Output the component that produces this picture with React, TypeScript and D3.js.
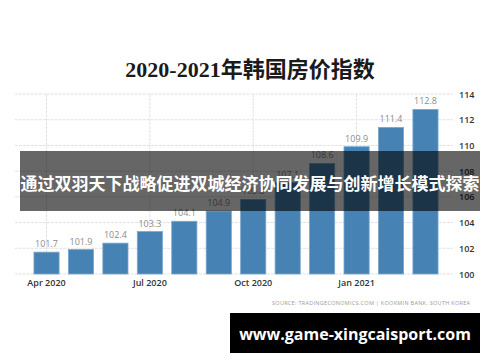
import { useMemo } from 'react';
import * as d3 from 'd3';

const W = 500;
const H = 362;

const months = [
  'Apr 2020', 'May 2020', 'Jun 2020', 'Jul 2020', 'Aug 2020', 'Sep 2020',
  'Oct 2020', 'Nov 2020', 'Dec 2020', 'Jan 2021', 'Feb 2021', 'Mar 2021',
];
const values = [101.7, 101.9, 102.4, 103.3, 104.1, 104.9, 105.8, 107.1, 108.6, 109.9, 111.4, 112.8];
const xTickLabels = ['Apr 2020', 'Jul 2020', 'Oct 2020', 'Jan 2021'];
const yTicks = [100, 102, 104, 106, 108, 110, 112, 114];

const TITLE = '2020-2021年韩国房价指数';
const BANNER = '通过双羽天下战略促进双城经济协同发展与创新增长模式探索';
const SOURCE = 'SOURCE: TRADINGECONOMICS.COM | KOOKMIN BANK, SOUTH KOREA';
const WATERMARK = 'www.game-xingcaisport.com';

const BAR_COLOR = '#4682b4';
const GRID_COLOR = '#e2e2e2';
const FONT = "'Open Sans', 'Noto Sans', sans-serif";

export default function App() {
  // plot area
  const left = 15;
  const gridRight = 453;

  const x = useMemo(
    () => d3.scaleBand<string>().domain(months).range([29.3, 442.7]).paddingInner(0.27).paddingOuter(0.135),
    []
  );
  const y = useMemo(() => d3.scaleLinear().domain([100, 114]).range([274, 94]), []);

  return (
    <div style={{ position: 'fixed', left: 0, top: 0, width: W, height: H, background: '#fff' }}>
      <svg width={W} height={H} viewBox={`0 0 ${W} ${H}`} style={{ display: 'block' }}>
        <rect x={0} y={0} width={W} height={H} fill="#fff" />

        {/* title */}
        <text
          x={250}
          y={77}
          textAnchor="middle"
          fontFamily="'Liberation Serif', 'Noto Sans CJK SC', serif"
          fontWeight={700}
          fontSize={22}
          fill="#1a1a1a"
        >
          {TITLE}
        </text>

        {/* horizontal grid */}
        {yTicks.map(t => (
          <line
            key={'h' + t}
            x1={left}
            x2={gridRight}
            y1={y(t)}
            y2={y(t)}
            stroke={GRID_COLOR}
            strokeWidth={1}
            strokeDasharray="3,1"
          />
        ))}

        {/* vertical grid */}
        {xTickLabels.map(m => {
          const cx = (x(m) ?? 0) + x.bandwidth() / 2;
          return (
            <line
              key={'v' + m}
              x1={cx}
              x2={cx}
              y1={y(114)}
              y2={y(100)}
              stroke={GRID_COLOR}
              strokeWidth={1}
              strokeDasharray="3,1"
            />
          );
        })}

        {/* bars */}
        {months.map((m, i) => (
          <rect
            key={m}
            x={x(m)}
            y={y(values[i])}
            width={x.bandwidth()}
            height={y(100) - y(values[i])}
            fill={BAR_COLOR}
            stroke="#7aa7cc"
            strokeWidth={0.8}
          />
        ))}

        {/* value labels */}
        {months.map((m, i) => (
          <text
            key={'l' + m}
            x={(x(m) ?? 0) + x.bandwidth() / 2}
            y={y(values[i]) - 5}
            textAnchor="middle"
            fontFamily={FONT}
            fontSize={9}
            fill="#8c8c8c"
          >
            {values[i].toFixed(1)}
          </text>
        ))}

        {/* x labels */}
        {xTickLabels.map(m => (
          <text
            key={'x' + m}
            x={(x(m) ?? 0) + x.bandwidth() / 2}
            y={286}
            textAnchor="middle"
            fontFamily={FONT}
            fontWeight={600}
            fontSize={9}
            fill="#333"
          >
            {m}
          </text>
        ))}

        {/* y labels */}
        {yTicks.map(t => (
          <text
            key={'y' + t}
            x={459}
            y={y(t) + 3.5}
            fontFamily={FONT}
            fontWeight={600}
            fontSize={9}
            fill="#333"
          >
            {t}
          </text>
        ))}

        {/* source */}
        <text
          x={272}
          y={305}
          textLength={198}
          lengthAdjust="spacing"
          fontFamily={FONT}
          fontSize={5.5}
          fill="#9a9a9a"
        >
          {SOURCE}
        </text>

        {/* overlay banner */}
        <rect x={20} y={151} width={460} height={60} fill="rgba(0,0,0,0.6)" />
        <text
          x={250}
          y={190}
          textAnchor="middle"
          fontFamily="'Noto Sans CJK SC', sans-serif"
          fontWeight={700}
          fontSize={17}
          fill="#fff"
        >
          {BANNER}
        </text>

        {/* watermark box */}
        <rect x={230} y={313} width={250} height={40} fill="#000" />
        <text
          x={355}
          y={339.5}
          textAnchor="middle"
          fontFamily={FONT}
          fontWeight={700}
          fontSize={16}
          fill="#fff"
        >
          {WATERMARK}
        </text>
      </svg>
    </div>
  );
}
